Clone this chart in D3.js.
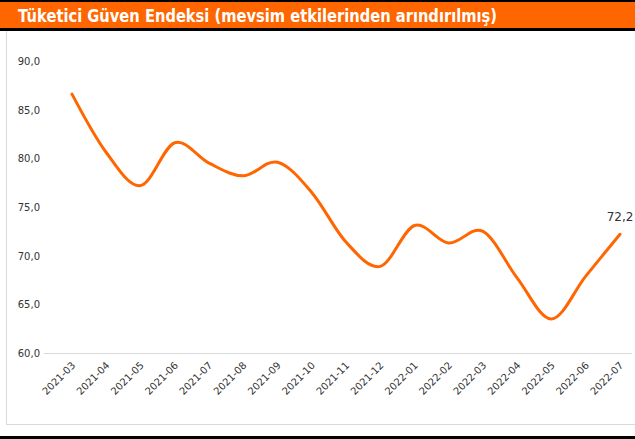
<!DOCTYPE html>
<html>
<head>
  <meta charset="UTF-8">
  <title>Tüketici Güven Endeksi</title>
  <script src="https://cdn.jsdelivr.net/npm/d3@7"></script>
  <style>
    body { margin: 0; background: #fff; }
    svg { display: block; }
  </style>
</head>
<body>
  <svg id="chart" width="635" height="439"></svg>
  <script>
  // data
  var months = ["2021-03", "2021-04", "2021-05", "2021-06", "2021-07", "2021-08",
    "2021-09", "2021-10", "2021-11", "2021-12", "2022-01", "2022-02",
    "2022-03", "2022-04", "2022-05", "2022-06", "2022-07"];
  var values = [86.6, 80.6, 77.2, 81.6, 79.5, 78.2, 79.6, 76.5, 71.4, 68.9,
    73.1, 71.3, 72.5, 67.7, 63.5, 67.9, 72.2];
  var yTicks = [60, 65, 70, 75, 80, 85, 90];

  var orange = "#ff6600";
  var svg = d3.select("#chart");
  var fmt = function (v) { return d3.format(".1f")(v).replace(".", ","); };

  // frame
  svg.append("rect").attr("x", 0).attr("y", 0).attr("width", 635).attr("height", 2).attr("fill", "#000");
  svg.append("rect").attr("x", 0).attr("y", 2).attr("width", 635).attr("height", 27).attr("fill", orange);
  svg.append("rect").attr("x", 0).attr("y", 28).attr("width", 635).attr("height", 3).attr("fill", "#000");
  svg.append("line").attr("x1", 6.5).attr("x2", 6.5).attr("y1", 31).attr("y2", 424.5)
    .attr("stroke", "#d9d9d9");
  svg.append("line").attr("x1", 6).attr("x2", 635).attr("y1", 424.5).attr("y2", 424.5)
    .attr("stroke", "#d9d9d9");
  svg.append("rect").attr("x", 0).attr("y", 436).attr("width", 635).attr("height", 3).attr("fill", "#000");

  svg.append("text")
    .attr("x", 18).attr("y", 22)
    .attr("fill", "#fff")
    .attr("font-family", "'DejaVu Sans', sans-serif")
    .attr("font-weight", "bold")
    .attr("font-size", 17)
    .attr("textLength", 479)
    .attr("lengthAdjust", "spacingAndGlyphs")
    .text("Tüketici Güven Endeksi (mevsim etkilerinden arındırılmış)");

  // scales
  var x = d3.scalePoint().domain(months).range([72, 620]);
  var y = d3.scaleLinear().domain([60, 90]).range([353, 61]);

  // baseline
  svg.append("line").attr("x1", 44).attr("x2", 632)
    .attr("y1", y(60) + 0.5).attr("y2", y(60) + 0.5)
    .attr("stroke", "#d9d9d9").attr("stroke-width", 1);

  // y labels
  svg.append("g").selectAll("text").data(yTicks).enter().append("text")
    .attr("x", 40).attr("y", function (d) { return y(d) + 4; })
    .attr("text-anchor", "end")
    .attr("font-family", "'DejaVu Sans', sans-serif")
    .attr("font-size", 10)
    .attr("fill", "#333")
    .text(fmt);

  // x labels
  svg.append("g").selectAll("text").data(months).enter().append("text")
    .attr("transform", function (d) { return "translate(" + (x(d) + 4) + "," + 366 + ") rotate(-45)"; })
    .attr("text-anchor", "end")
    .attr("font-family", "'DejaVu Sans', sans-serif")
    .attr("font-size", 10)
    .attr("fill", "#333")
    .text(function (d) { return d; });

  // line
  var line = d3.line()
    .x(function (d, i) { return x(months[i]); })
    .y(function (d) { return y(d); })
    .curve(d3.curveCatmullRom.alpha(0));

  svg.append("path")
    .datum(values)
    .attr("d", line)
    .attr("fill", "none")
    .attr("stroke", orange)
    .attr("stroke-width", 3)
    .attr("stroke-linecap", "round");

  // last value label
  var last = values.length - 1;
  svg.append("text")
    .attr("x", x(months[last])).attr("y", y(values[last]) - 13)
    .attr("text-anchor", "middle")
    .attr("font-family", "'DejaVu Sans', sans-serif")
    .attr("font-size", 12)
    .attr("fill", "#333")
    .text(fmt(values[last]));
  </script>
</body>
</html>
